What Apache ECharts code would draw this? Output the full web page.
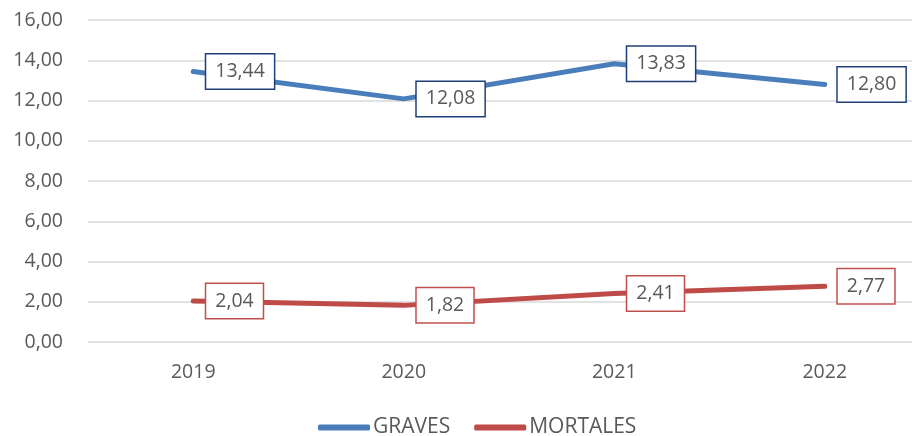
<!DOCTYPE html>
<html>
<head>
<meta charset="utf-8">
<script src="https://cdn.jsdelivr.net/npm/echarts@6/dist/echarts.min.js"></script>
<style>
  html, body { margin: 0; padding: 0; background: #fff; overflow: hidden; }
  #wrap { width: 912px; height: 436px; overflow: hidden; }
  #main { width: 930px; height: 436px; }
</style>
</head>
<body>
<div id="wrap"><div id="main"></div></div>
<script>
var years = ['2019', '2020', '2021', '2022'];
var graves = [13.44, 12.08, 13.83, 12.80];
var mortales = [2.04, 1.82, 2.41, 2.77];

var myChart = echarts.init(document.getElementById('main'));

function fmt(v) {
  return v.toFixed(2).replace('.', ',');
}

function boxLabel(border) {
  return {
    show: true,
    position: 'right',
    distance: 13,
    formatter: function (p) { return fmt(p.value); },
    fontFamily: '"Open Sans", sans-serif',
    fontSize: 19.5,
    lineHeight: 23,
    color: '#595959',
    backgroundColor: '#fff',
    borderColor: border,
    borderWidth: 1.5,
    padding: [6, 9, 5, 9]
  };
}

var option = {
  animation: false,
  textStyle: { fontFamily: '"Open Sans", sans-serif' },
  grid: { left: 88, right: 0, top: 20, bottom: 94 },
  legend: {
    top: 412,
    left: 313,
    itemWidth: 52,
    itemHeight: 6,
    itemGap: 24,
    icon: 'roundRect',
    textStyle: { fontSize: 21, color: '#595959', padding: [0, 0, 0, -2] },
    data: ['GRAVES', 'MORTALES']
  },
  xAxis: {
    type: 'category',
    data: years,
    axisLine: { show: false },
    axisTick: { show: false },
    axisLabel: { fontSize: 19.5, color: '#595959', margin: 20 }
  },
  yAxis: {
    type: 'value',
    min: 0,
    max: 16,
    interval: 2,
    axisLabel: { fontSize: 19.5, color: '#595959', margin: 25, formatter: fmt },
    splitLine: { lineStyle: { color: '#d9d9d9', width: 1.5 } }
  },
  series: [{
    name: 'GRAVES',
    type: 'line',
    data: graves,
    symbol: 'circle',
    symbolSize: 0,
    lineStyle: { color: '#4a7ebb', width: 5, cap: 'round' },
    itemStyle: { color: '#4a7ebb' },
    label: boxLabel('#1f3f77')
  }, {
    name: 'MORTALES',
    type: 'line',
    data: mortales,
    symbol: 'circle',
    symbolSize: 0,
    lineStyle: { color: '#be4b48', width: 5, cap: 'round' },
    itemStyle: { color: '#be4b48' },
    label: boxLabel('#c0504d')
  }]
};

myChart.setOption(option);
</script>
</body>
</html>
